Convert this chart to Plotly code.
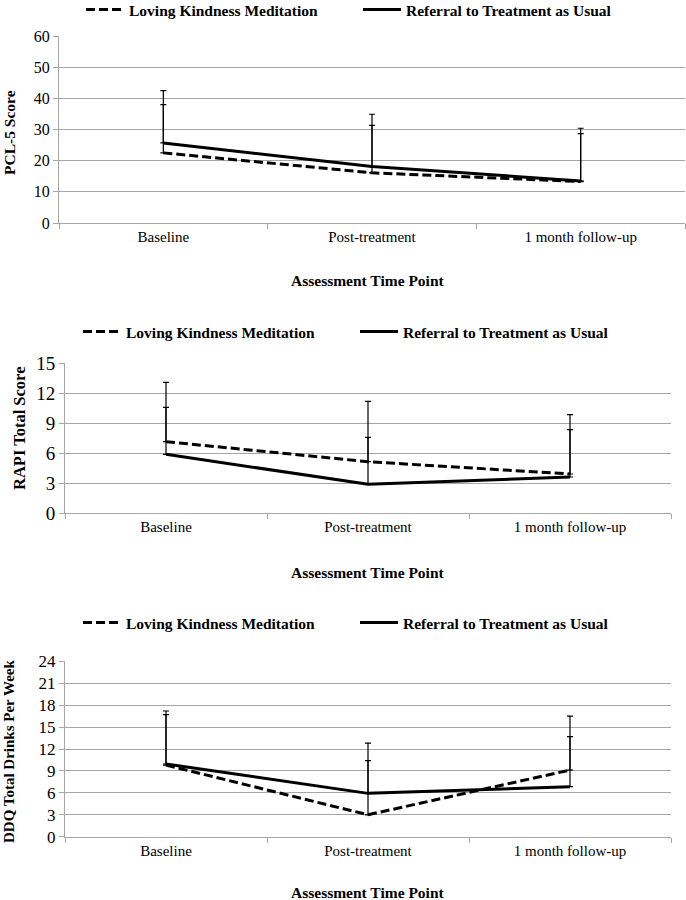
import plotly.graph_objects as go

categories = ["Baseline", "Post-treatment", "1 month follow-up"]
series_names = ["Loving Kindness Meditation", "Referral to Treatment as Usual"]

# Panel 1: PCL-5
pcl_lkm = [22.5, 16.1, 13.3]
pcl_rtau = [25.7, 18.1, 13.5]
pcl_lkm_top = [38.0, 31.3, 28.7]
pcl_rtau_top = [42.5, 34.9, 30.4]

# Panel 2: RAPI
rapi_lkm = [7.16, 5.16, 3.93]
rapi_rtau = [5.9, 2.9, 3.63]
rapi_lkm_top = [13.1, 11.2, 9.86]
rapi_rtau_top = [10.6, 7.6, 8.36]

# Panel 3: DDQ
ddq_lkm = [9.8, 3.0, 9.12]
ddq_rtau = [9.95, 5.93, 6.84]
ddq_lkm_top = [16.7, 10.4, 16.5]
ddq_rtau_top = [17.2, 12.8, 13.7]

y_titles = ["PCL-5 Score", "RAPI Total Score", "DDQ Total Drinks Per Week"]
x_title = "Assessment Time Point"
y_ticks = [list(range(0, 61, 10)), list(range(0, 16, 3)), list(range(0, 25, 3))]

W, H = 686, 900
FONT = "Liberation Serif, Times New Roman, serif"
GRID = "#a6a6a6"

panels = [
    (pcl_lkm, pcl_rtau, pcl_lkm_top, pcl_rtau_top),
    (rapi_lkm, rapi_rtau, rapi_lkm_top, rapi_rtau_top),
    (ddq_lkm, ddq_rtau, ddq_lkm_top, ddq_rtau_top),
]

# pixel geometry: (left, right, top, bottom)
geom = [(59, 685, 36, 223), (65, 671, 363.3, 513.3), (65, 671, 661.3, 836.7)]
tick_sizes = [16, 19, 17]
legend_y = [10, 332, 623]
legend_x = [81, 78, 78]
ytitle_pos = [(9, 133, 15.5), (19, 429, 16.5), (9, 752, 15)]
xtitle_y = [281, 572, 892]

fig = go.Figure()
for i, (lkm, rtau, lkm_top, rtau_top) in enumerate(panels):
    n = i + 1
    xa = "x" if n == 1 else f"x{n}"
    ya = "y" if n == 1 else f"y{n}"
    lg = "legend" if n == 1 else f"legend{n}"
    for name, vals, tops, dash in [
        (series_names[0], lkm, lkm_top, "9px,4px"),
        (series_names[1], rtau, rtau_top, "solid"),
    ]:
        fig.add_trace(go.Scatter(
            x=categories, y=vals, mode="lines", name=f"<b>{name}</b>",
            line=dict(color="black", width=3, dash=dash),
            error_y=dict(type="data", symmetric=False,
                         array=[t - v for t, v in zip(tops, vals)],
                         arrayminus=[0, 0, 0], color="black",
                         thickness=1.2, width=3),
            xaxis=xa, yaxis=ya, legend=lg,
        ))
    l, r, t, b = geom[i]
    xkey = "xaxis" if n == 1 else f"xaxis{n}"
    ykey = "yaxis" if n == 1 else f"yaxis{n}"
    ticks = y_ticks[i]
    fig.update_layout(**{
        xkey: dict(domain=[l / W, r / W], anchor=ya, type="category",
                   range=[-0.5, 2.5], tickson="boundaries", ticks="outside",
                   ticklen=5, tickcolor=GRID, showline=True, linecolor=GRID,
                   linewidth=1, showgrid=False, zeroline=False,
                   tickfont=dict(family=FONT, size=15, color="black")),
        ykey: dict(domain=[1 - b / H, 1 - t / H], anchor=xa,
                   range=[ticks[0], ticks[-1]], tickvals=ticks,
                   ticks="outside", ticklen=5, tickcolor=GRID,
                   showline=True, linecolor=GRID, linewidth=1,
                   showgrid=True, gridcolor=GRID, gridwidth=1,
                   zeroline=False,
                   tickfont=dict(family=FONT, size=tick_sizes[i], color="black")),
        lg: dict(orientation="h", x=legend_x[i] / W, xanchor="left",
                 y=1 - legend_y[i] / H, yanchor="middle",
                 font=dict(family=FONT, size=15.5, color="black"),
                 bgcolor="rgba(0,0,0,0)", entrywidth=224,
                 entrywidthmode="pixels", itemwidth=38),
    })
    xp, yp, fs = ytitle_pos[i]
    fig.add_annotation(text=f"<b>{y_titles[i]}</b>", x=xp / W, y=1 - yp / H,
                       xref="paper", yref="paper", textangle=-90,
                       showarrow=False, xanchor="center", yanchor="middle",
                       font=dict(family=FONT, size=fs, color="black"))
    fig.add_annotation(text=f"<b>{x_title}</b>", x=368 / W, y=1 - xtitle_y[i] / H,
                       xref="paper", yref="paper", showarrow=False,
                       xanchor="center", yanchor="middle",
                       font=dict(family=FONT, size=15.5, color="black"))

fig.update_layout(width=W, height=H,
                  margin=dict(l=0, r=0, t=0, b=0, autoexpand=False),
                  paper_bgcolor="white", plot_bgcolor="white", showlegend=True)
fig.write_html("out.html", config={"displayModeBar": False},
               post_script="document.body.style.margin='0px';"
                           "document.body.style.overflow='hidden';")
